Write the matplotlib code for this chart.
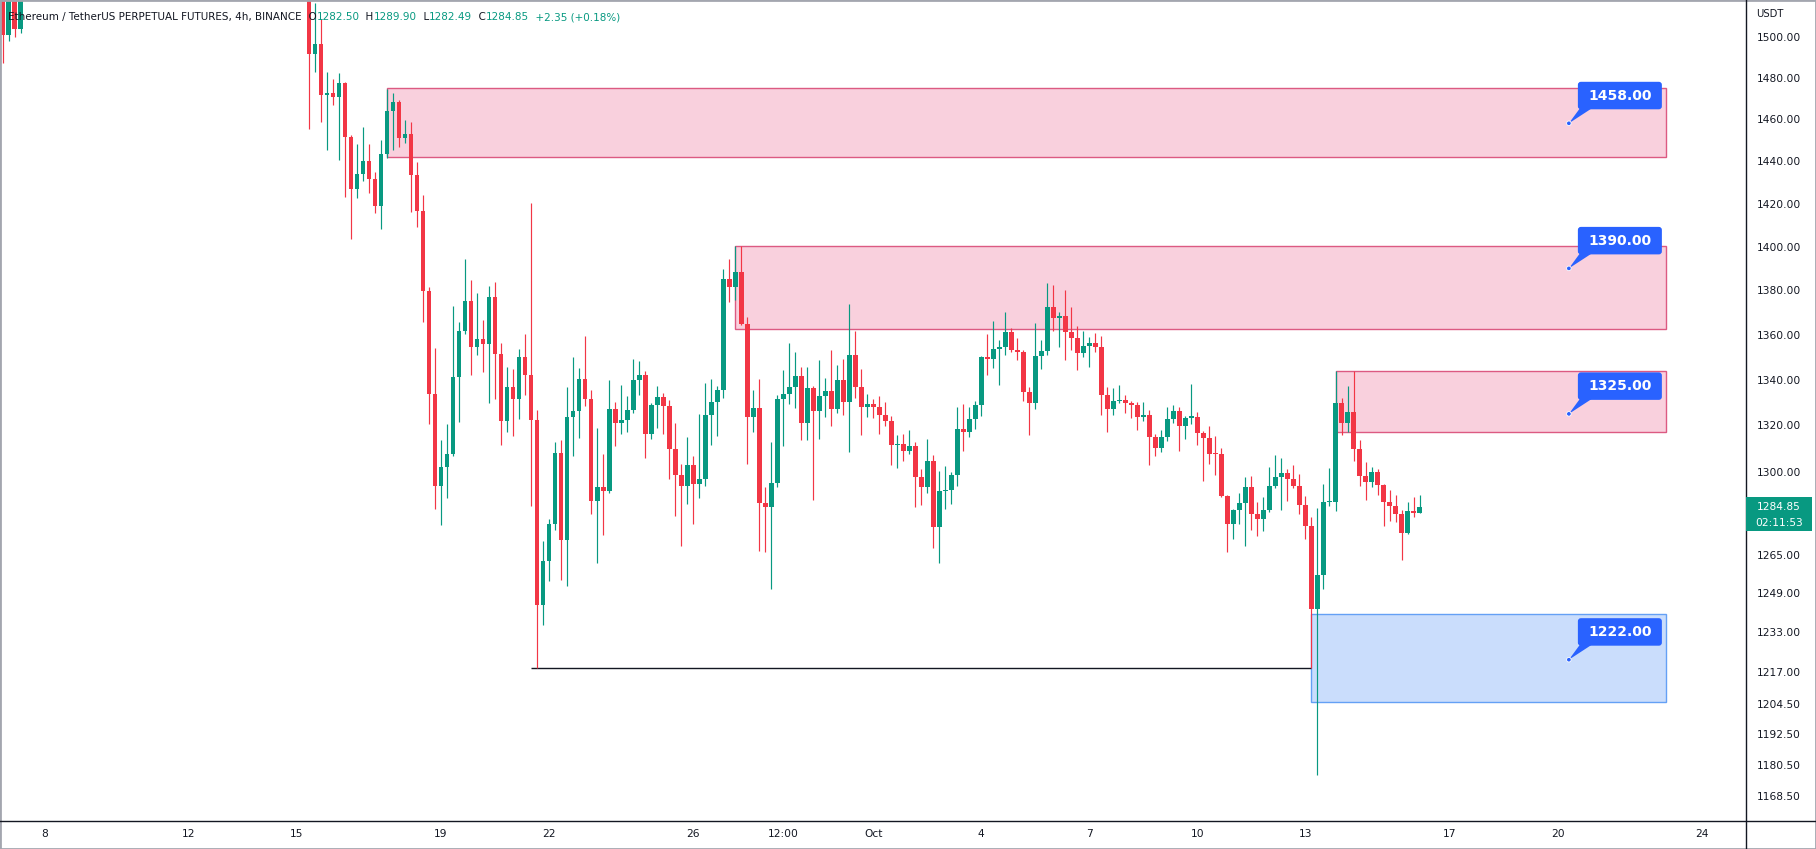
#!/usr/bin/env python3
"""
ETH/USDT perpetual 4h candles with supply / demand zones, TradingView look.
Writes out.png (1816x849).
"""

import matplotlib
matplotlib.use("Agg")
import matplotlib.pyplot as plt
import matplotlib.transforms as mtransforms
from matplotlib.patches import Rectangle, FancyBboxPatch, Polygon, Circle
from matplotlib.lines import Line2D
from matplotlib.ticker import NullLocator, NullFormatter
import numpy as np
import pandas as pd

# ---- data -------------------------------------------------------------
first_bar = "2022-09-15 08:00"   # 4h bars from here on

opens = [
    1540.0, 1491.5, 1496.5, 1471.8, 1472.6, 1470.5, 1477.7, 1451.4, 1427.0, 1434.0,
    1440.1, 1431.5, 1418.9, 1443.4, 1464.0, 1468.3, 1451.1, 1452.8, 1433.2, 1416.7,
    1379.7, 1333.9, 1293.8, 1302.0, 1307.8, 1341.2, 1361.6, 1375.0, 1354.5, 1358.0,
    1355.7, 1377.1, 1351.3, 1322.0, 1336.7, 1331.4, 1350.0, 1342.1, 1322.3, 1244.3,
    1262.5, 1277.9, 1308.0, 1270.9, 1323.6, 1326.3, 1340.3, 1331.5, 1287.4, 1293.6,
    1291.7, 1327.2, 1321.2, 1322.3, 1326.7, 1339.9, 1342.1, 1316.3, 1329.0, 1332.5,
    1328.6, 1309.8, 1298.7, 1294.1, 1303.0, 1294.9, 1297.1, 1324.6, 1330.1, 1335.5,
    1385.2, 1381.7, 1388.2, 1364.8, 1323.8, 1327.5, 1286.6, 1284.9, 1295.2, 1331.5,
    1333.7, 1336.7, 1341.7, 1321.2, 1336.2, 1326.4, 1332.7, 1335.1, 1327.3, 1339.9,
    1330.4, 1351.0, 1336.9, 1327.8, 1329.4, 1328.2, 1324.6, 1321.9, 1311.3, 1312.0,
    1308.9, 1311.1, 1297.6, 1293.4, 1304.7, 1276.4, 1291.7, 1292.1, 1298.7, 1318.5,
    1317.2, 1322.8, 1329.0, 1350.0, 1349.2, 1353.6, 1354.3, 1361.3, 1353.2, 1352.3,
    1334.6, 1329.9, 1350.6, 1352.8, 1372.5, 1367.7, 1368.5, 1361.0, 1358.3, 1351.6,
    1355.1, 1356.1, 1354.5, 1333.4, 1327.3, 1330.7, 1331.1, 1329.9, 1329.0, 1323.8,
    1324.6, 1314.8, 1310.4, 1314.8, 1322.8, 1326.3, 1319.6, 1323.4, 1323.8, 1316.6,
    1314.4, 1307.8, 1307.4, 1289.8, 1278.0, 1283.8, 1286.8, 1293.3, 1282.2, 1280.1,
    1283.8, 1294.1, 1297.6, 1299.3, 1296.7, 1294.1, 1286.0, 1277.1, 1242.7, 1256.6,
    1286.9, 1287.2, 1329.8, 1321.2, 1325.9, 1309.8, 1298.3, 1295.5, 1300.0, 1294.5,
    1287.2, 1285.5, 1282.1, 1274.1, 1283.3, 1282.50,
]
highs = [
    1548.0, 1516.7, 1509.0, 1482.7, 1479.4, 1482.4, 1478.2, 1452.5, 1448.2, 1456.1,
    1448.2, 1434.8, 1449.8, 1474.8, 1472.6, 1469.3, 1459.7, 1458.6, 1439.7, 1424.0,
    1381.3, 1354.2, 1313.5, 1320.8, 1372.7, 1365.7, 1394.3, 1384.5, 1378.6, 1366.5,
    1382.0, 1383.8, 1356.2, 1345.5, 1344.6, 1353.5, 1360.3, 1420.1, 1326.7, 1270.5,
    1279.8, 1312.8, 1313.5, 1336.9, 1350.2, 1345.1, 1359.4, 1335.5, 1318.8, 1307.7,
    1339.9, 1330.2, 1337.7, 1332.9, 1349.2, 1348.3, 1343.9, 1329.8, 1337.3, 1334.3,
    1331.1, 1321.2, 1303.4, 1314.8, 1306.6, 1325.1, 1338.4, 1340.3, 1337.4, 1389.8,
    1394.3, 1400.2, 1400.2, 1367.8, 1335.5, 1340.3, 1293.6, 1312.8, 1333.3, 1344.3,
    1356.2, 1352.2, 1345.5, 1345.5, 1337.3, 1348.8, 1340.6, 1353.2, 1346.5, 1349.2,
    1373.9, 1361.7, 1344.8, 1333.7, 1331.5, 1332.9, 1330.2, 1324.2, 1315.8, 1316.3,
    1318.1, 1312.8, 1301.3, 1314.2, 1307.3, 1300.4, 1302.3, 1299.7, 1328.2, 1329.4,
    1328.2, 1330.8, 1350.3, 1360.3, 1366.2, 1357.6, 1370.2, 1363.2, 1358.4, 1353.2,
    1336.7, 1365.4, 1357.6, 1383.4, 1382.5, 1370.2, 1380.2, 1372.6, 1363.9, 1361.7,
    1359.1, 1360.6, 1359.4, 1336.7, 1336.2, 1337.7, 1333.3, 1330.8, 1330.2, 1330.2,
    1326.7, 1316.1, 1318.1, 1328.2, 1329.0, 1327.8, 1324.2, 1338.1, 1325.7, 1317.6,
    1319.9, 1315.5, 1310.2, 1290.1, 1284.3, 1290.8, 1297.8, 1298.3, 1287.2, 1289.4,
    1301.9, 1307.3, 1306.0, 1301.3, 1303.0, 1299.1, 1289.7, 1280.9, 1284.5, 1294.9,
    1301.6, 1343.7, 1331.9, 1337.3, 1343.7, 1313.5, 1304.3, 1301.9, 1301.2, 1294.9,
    1292.2, 1290.1, 1283.8, 1287.2, 1289.3, 1289.90,
]
lows = [
    1455.2, 1482.7, 1458.6, 1445.4, 1466.8, 1440.5, 1423.1, 1403.4, 1422.6, 1430.4,
    1424.7, 1415.4, 1408.2, 1441.6, 1445.4, 1446.5, 1448.7, 1416.2, 1409.3, 1365.7,
    1320.8, 1284.0, 1277.5, 1289.0, 1306.9, 1321.6, 1360.3, 1342.0, 1350.8, 1343.5,
    1329.6, 1331.4, 1311.6, 1317.3, 1315.5, 1322.9, 1333.4, 1285.5, 1218.6, 1236.1,
    1253.9, 1275.4, 1254.6, 1251.8, 1306.6, 1314.5, 1328.6, 1282.0, 1261.5, 1273.3,
    1291.0, 1311.1, 1316.3, 1316.9, 1325.3, 1333.3, 1306.1, 1313.9, 1318.8, 1316.3,
    1297.1, 1281.0, 1268.8, 1286.4, 1277.9, 1288.8, 1293.7, 1311.3, 1315.2, 1331.9,
    1374.9, 1375.7, 1364.4, 1303.4, 1316.9, 1266.7, 1266.3, 1250.8, 1293.6, 1310.9,
    1329.2, 1327.5, 1313.5, 1313.5, 1287.8, 1314.2, 1323.8, 1319.6, 1325.3, 1324.3,
    1308.3, 1331.9, 1315.8, 1323.8, 1323.1, 1316.3, 1319.6, 1302.7, 1301.4, 1304.8,
    1307.7, 1285.2, 1285.7, 1291.1, 1267.7, 1261.5, 1284.1, 1286.3, 1294.1, 1309.0,
    1315.0, 1318.5, 1324.2, 1342.1, 1345.3, 1337.7, 1351.0, 1352.2, 1348.5, 1330.8,
    1315.8, 1327.3, 1344.8, 1351.0, 1361.8, 1354.7, 1348.5, 1353.2, 1344.3, 1350.2,
    1345.7, 1352.2, 1324.3, 1316.9, 1324.6, 1329.9, 1325.3, 1323.4, 1317.8, 1322.0,
    1302.7, 1306.8, 1308.6, 1313.1, 1321.0, 1309.0, 1314.1, 1320.6, 1311.7, 1296.0,
    1303.4, 1298.7, 1289.1, 1265.9, 1271.6, 1278.0, 1268.4, 1275.4, 1272.9, 1275.0,
    1282.8, 1292.9, 1283.8, 1287.4, 1292.9, 1282.1, 1271.6, 1218.6, 1176.5, 1250.9,
    1285.5, 1283.5, 1315.8, 1316.9, 1304.8, 1293.7, 1287.8, 1293.6, 1290.1, 1276.8,
    1279.2, 1278.8, 1262.9, 1273.8, 1280.9, 1282.49,
]
closes = [
    1491.5, 1496.5, 1471.8, 1472.6, 1470.5, 1477.7, 1451.4, 1427.0, 1434.0, 1440.1,
    1431.5, 1418.9, 1443.4, 1464.0, 1468.3, 1451.1, 1452.8, 1433.2, 1416.7, 1379.7,
    1333.9, 1293.8, 1302.0, 1307.8, 1341.2, 1361.6, 1375.0, 1354.5, 1358.0, 1355.7,
    1377.1, 1351.3, 1322.0, 1336.7, 1331.4, 1350.0, 1342.1, 1322.3, 1244.3, 1262.5,
    1277.9, 1308.0, 1270.9, 1323.6, 1326.3, 1340.3, 1331.5, 1287.4, 1293.6, 1291.7,
    1327.2, 1321.2, 1322.3, 1326.7, 1339.9, 1342.1, 1316.3, 1329.0, 1332.5, 1328.6,
    1309.8, 1298.7, 1294.1, 1303.0, 1294.9, 1297.1, 1324.6, 1330.1, 1335.5, 1385.2,
    1381.7, 1388.2, 1364.8, 1323.8, 1327.5, 1286.6, 1284.9, 1295.2, 1331.5, 1333.7,
    1336.7, 1341.7, 1321.2, 1336.2, 1326.4, 1332.7, 1335.1, 1327.3, 1339.9, 1330.4,
    1351.0, 1336.9, 1327.8, 1329.4, 1328.2, 1324.6, 1321.9, 1311.3, 1312.0, 1308.9,
    1311.1, 1297.6, 1293.4, 1304.7, 1276.4, 1291.7, 1292.1, 1298.7, 1318.5, 1317.2,
    1322.8, 1329.0, 1350.0, 1349.2, 1353.6, 1354.3, 1361.3, 1353.2, 1352.3, 1334.6,
    1329.9, 1350.6, 1352.8, 1372.5, 1367.7, 1368.5, 1361.0, 1358.3, 1351.6, 1355.1,
    1356.1, 1354.5, 1333.4, 1327.3, 1330.7, 1331.1, 1329.9, 1329.0, 1323.8, 1324.6,
    1314.8, 1310.4, 1314.8, 1322.8, 1326.3, 1319.6, 1323.4, 1323.8, 1316.6, 1314.4,
    1307.8, 1307.4, 1289.8, 1278.0, 1283.8, 1286.8, 1293.3, 1282.2, 1280.1, 1283.8,
    1294.1, 1297.6, 1299.3, 1296.7, 1294.1, 1286.0, 1277.1, 1242.7, 1256.6, 1286.9,
    1287.2, 1329.8, 1321.2, 1325.9, 1309.8, 1298.3, 1295.5, 1300.0, 1294.5, 1287.2,
    1285.5, 1282.1, 1274.1, 1283.3, 1282.5, 1284.85,
]

# a few older bars that poke in at the top-left corner
early_first_bar = "2022-09-06 20:00"
early_opens = [1530.0, 1501.0, 1522.0, 1504.0]
early_highs = [1540.0, 1528.0, 1530.0, 1535.0]
early_lows = [1487.0, 1498.0, 1500.0, 1502.0]
early_closes = [1501.0, 1522.0, 1504.0, 1528.0]

# zones (three supply, one demand)
zone_starts = ["2022-09-17 12:00", "2022-09-27 04:00", "2022-10-13 20:00", "2022-10-13 04:00"]
zone_end = "2022-10-23 00:00"
zone_tops = [1475.0, 1400.2, 1343.7, 1240.4]
zone_bottoms = [1442.0, 1362.4, 1317.0, 1205.0]
zone_kinds = ["supply", "supply", "supply", "demand"]

label_values = [1458.00, 1390.00, 1325.00, 1222.00]
label_time = "2022-10-20 07:30"

low_line_start = "2022-09-21 12:00"
low_line_end = "2022-10-13 04:00"
low_line_price = 1218.6

price_ticks = [1500, 1480, 1460, 1440, 1420, 1400, 1380, 1360, 1340, 1320, 1300,
               1265, 1249, 1233, 1217, 1204.5, 1192.5, 1180.5, 1168.5]
date_ticks = ["2022-09-08 00:00", "2022-09-12 00:00", "2022-09-15 00:00", "2022-09-19 00:00",
              "2022-09-22 00:00", "2022-09-26 00:00", "2022-09-28 12:00", "2022-10-01 00:00",
              "2022-10-04 00:00", "2022-10-07 00:00", "2022-10-10 00:00", "2022-10-13 00:00",
              "2022-10-17 00:00", "2022-10-20 00:00", "2022-10-24 00:00"]
date_labels = ["8", "12", "15", "19", "22", "26", "12:00", "Oct", "4", "7", "10",
               "13", "17", "20", "24"]

x_range = ("2022-09-06 18:09", "2022-10-25 05:31")
y_range = (1158.8, 1518.4)

title = "Ethereum / TetherUS PERPETUAL FUTURES, 4h, BINANCE"
change_text = "+2.35 (+0.18%)"
countdown = "02:11:53"

# ---- style ------------------------------------------------------------
W, H, DPI = 1816, 849, 100
DARK = "#131722"
GREEN = "#089981"
RED = "#F23645"
SUPPLY_FILL, SUPPLY_EDGE = "#F9D0DD", "#DC5A82"
DEMAND_FILL, DEMAND_EDGE = "#CADDFC", "#64A0F5"
CALLOUT = "#2962FF"
BODY_W = 0.8 * 4 / 24          # in days
ORIGIN = pd.Timestamp("2022-09-01")


def to_day(t):
    """Timestamp(s) -> day-of-month style float (Sep 8 00:00 == 8.0)."""
    if isinstance(t, (list, tuple)):
        t = pd.DatetimeIndex([pd.Timestamp(v) for v in t])
    else:
        t = pd.to_datetime(t)
    delta = t - ORIGIN
    return np.asarray(delta / pd.Timedelta(days=1)) + 1.0


def draw_candles(ax, start, o, h, l, c):
    x = to_day(pd.date_range(start, periods=len(o), freq="4h"))
    o, h, l, c = map(np.asarray, (o, h, l, c))
    colors = np.where(c >= o, GREEN, RED)
    ax.vlines(x, l, h, colors=colors, linewidth=0.85, zorder=3)
    bottom = np.minimum(o, c)
    top = np.maximum(np.maximum(o, c), bottom * 1.0004)
    ax.bar(x, top - bottom, bottom=bottom, width=BODY_W, color=colors,
           linewidth=0, zorder=4)


def callout(fig, ax, x, y, text):
    # pixel offsets relative to the price point
    tr = mtransforms.Affine2D() + mtransforms.ScaledTranslation(x, y, ax.transData)
    fig.add_artist(Polygon([(0, 0), (11, 15), (23, 15)], closed=True,
                           transform=tr, fc=CALLOUT, ec="none", zorder=6))
    fig.add_artist(FancyBboxPatch((9, 14), 84, 27.5,
                                  boxstyle="round,pad=0,rounding_size=3",
                                  transform=tr, fc=CALLOUT, ec="none", zorder=6))
    fig.add_artist(Circle((0, 0), 2.3, transform=tr, fc=CALLOUT, ec="white",
                          lw=0.6, zorder=7))
    fig.text(51, 27.5, text, transform=tr, color="white", fontsize=10,
             fontweight="bold", ha="center", va="center", zorder=8)


def main():
    fig = plt.figure(figsize=(W / DPI, H / DPI), dpi=DPI)
    fig.patch.set_facecolor("white")
    ax = fig.add_axes([0, 28 / H, 1746 / W, 821 / H])
    ax.set_facecolor("white")

    # zones
    x_end = float(to_day(zone_end))
    for start, top, bot, kind in zip(zone_starts, zone_tops, zone_bottoms, zone_kinds):
        x0 = float(to_day(start))
        fc, ec = (SUPPLY_FILL, SUPPLY_EDGE) if kind == "supply" else (DEMAND_FILL, DEMAND_EDGE)
        ax.add_patch(Rectangle((x0, bot), x_end - x0, top - bot, fc=fc, ec=ec,
                               lw=1.0, zorder=1))

    ax.hlines(low_line_price, float(to_day(low_line_start)), float(to_day(low_line_end)),
              color=DARK, linewidth=1.0, zorder=2)

    draw_candles(ax, early_first_bar, early_opens, early_highs, early_lows, early_closes)
    draw_candles(ax, first_bar, opens, highs, lows, closes)

    ax.set_yscale("log")
    ax.set_xlim(float(to_day(x_range[0])), float(to_day(x_range[1])))
    ax.set_ylim(*y_range)

    ax.yaxis.tick_right()
    ax.set_yticks(price_ticks)
    ax.set_yticklabels([f"{v:.2f}" for v in price_ticks])
    ax.yaxis.set_minor_locator(NullLocator())
    ax.yaxis.set_minor_formatter(NullFormatter())
    ax.tick_params(axis="y", which="both", length=0, pad=7.5, labelsize=7.7,
                   labelcolor=DARK)

    ax.set_xticks(to_day(date_ticks))
    ax.set_xticklabels(date_labels)
    ax.tick_params(axis="x", length=0, pad=5.5, labelsize=7.7, labelcolor=DARK)
    for s in ax.spines.values():
        s.set_visible(False)

    # axis lines, price-scale split and outer frame
    x1 = ax.get_position().x1
    y0 = ax.get_position().y0
    fig.add_artist(Line2D([0, 1], [y0, y0], transform=fig.transFigure, color=DARK, lw=1.0))
    fig.add_artist(Line2D([x1, x1], [0, 1], transform=fig.transFigure, color=DARK, lw=1.0))
    fig.add_artist(Rectangle((0, 0), 1, 1, transform=fig.transFigure, fill=False,
                             ec="#A3A6AF", lw=2.0))
    fig.text(1756 / W, 1 - 14 / H, "USDT", color=DARK, fontsize=7.2, va="center")

    # callouts on the zones
    lx = float(to_day(label_time))
    for v in label_values:
        callout(fig, ax, lx, v, f"{v:.2f}")

    # last price tag on the scale
    blend = mtransforms.blended_transform_factory(fig.transFigure, ax.transData)
    tr = mtransforms.Affine2D() + mtransforms.ScaledTranslation(x1, closes[-1], blend)
    fig.add_artist(Rectangle((0, -24), 66, 34.5, transform=tr, fc=GREEN, ec="none",
                             zorder=9))
    fig.text(33, 0, f"{closes[-1]:.2f}", transform=tr, color="white", fontsize=7.7,
             ha="center", va="center", zorder=10)
    fig.text(33, -15.5, countdown, transform=tr, color="white", fontsize=7.7,
             ha="center", va="center", zorder=10)

    # legend line at top-left
    pieces = [
        ("  O", DARK), (f"{opens[-1]:.2f}", GREEN),
        ("  H", DARK), (f"{highs[-1]:.2f}", GREEN),
        ("  L", DARK), (f"{lows[-1]:.2f}", GREEN),
        ("  C", DARK), (f"{closes[-1]:.2f}", GREEN),
        ("  " + change_text, GREEN),
    ]
    prev = ax.annotate(title, xy=(8 / W, 1 - 22 / H), xycoords="figure fraction",
                       color=DARK, fontsize=7.5, ha="left", va="bottom", zorder=10)
    for txt, col in pieces:
        prev = ax.annotate(txt, xy=(1, 0), xycoords=prev, color=col, fontsize=7.5,
                           ha="left", va="bottom", zorder=10)

    fig.savefig("out.png", dpi=DPI)
    plt.close(fig)


if __name__ == "__main__":
    main()
